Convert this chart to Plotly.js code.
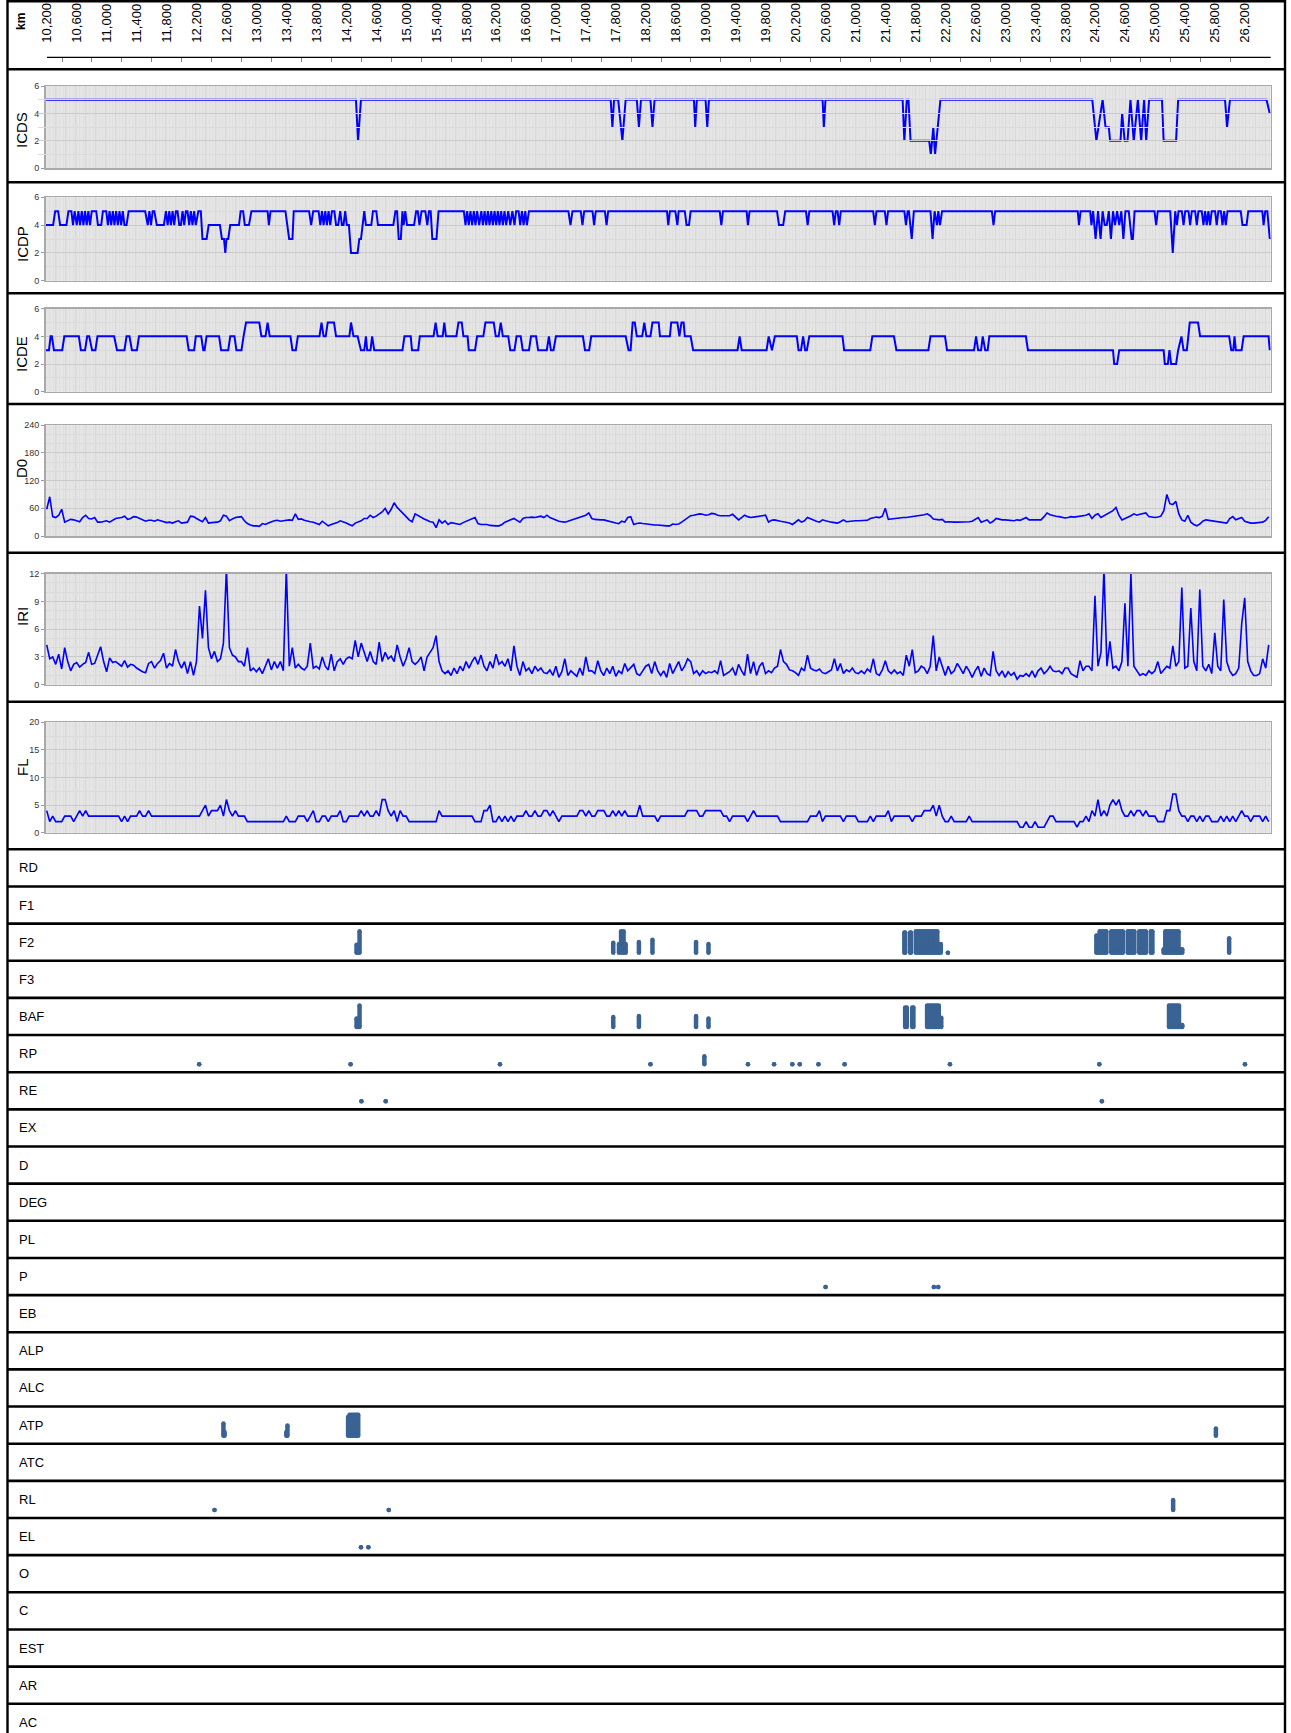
<!DOCTYPE html>
<html><head><meta charset="utf-8">
<script src="https://cdn.plot.ly/plotly-3.0.1.min.js"></script>
<style>html,body{margin:0;padding:0;background:#fff}#chart{width:1291px;height:1733px}</style>
</head><body><div id="chart"></div>
<script>
// ---------------- DATA ----------------
const kmTicks = [10200,10600,11000,11400,11800,12200,12600,13000,13400,13800,14200,14600,15000,15400,15800,16200,16600,17000,17400,17800,18200,18600,19000,19400,19800,20200,20600,21000,21400,21800,22200,22600,23000,23400,23800,24200,24600,25000,25400,25800,26200];
const kmLabels = ['10,200','10,600','11,000','11,400','11,800','12,200','12,600','13,000','13,400','13,800','14,200','14,600','15,000','15,400','15,800','16,200','16,600','17,000','17,400','17,800','18,200','18,600','19,000','19,400','19,800','20,200','20,600','21,000','21,400','21,800','22,200','22,600','23,000','23,400','23,800','24,200','24,600','25,000','25,400','25,800','26,200'];

const stations = [
10240,10280,10320,10360,10400,10440,10480,10520,10560,10600,10640,10680,10720,10760,10800,10840,10880,10920,10960,11000,
11040,11080,11120,11160,11200,11240,11280,11320,11360,11400,11440,11480,11520,11560,11600,11640,11680,11720,11760,11800,11840,11880,11920,11960,12000,
12040,12080,12120,12160,12200,12240,12280,12320,12360,12400,12440,12480,12520,12560,12600,12640,12680,12720,12760,12800,12840,12880,12920,12960,13000,
13040,13080,13120,13160,13200,13240,13280,13320,13360,13400,13440,13480,13520,13560,13600,13640,13680,13720,13760,13800,13840,13880,13920,13960,14000,
14040,14080,14120,14160,14200,14240,14280,14320,14360,14400,14440,14480,14520,14560,14600,14640,14680,14720,14760,14800,14840,14880,14920,14960,15000,
15040,15080,15120,15160,15200,15240,15280,15320,15360,15400,15440,15480,15520,15560,15600,15640,15680,15720,15760,15800,15840,15880,15920,15960,16000,
16040,16080,16120,16160,16200,16240,16280,16320,16360,16400,16440,16480,16520,16560,16600,16640,16680,16720,16760,16800,16840,16880,16920,16960,17000,
17040,17080,17120,17160,17200,17240,17280,17320,17360,17400,17440,17480,17520,17560,17600,17640,17680,17720,17760,17800,17840,17880,17920,17960,18000,
18040,18080,18120,18160,18200,18240,18280,18320,18360,18400,18440,18480,18520,18560,18600,18640,18680,18720,18760,18800,18840,18880,18920,18960,19000,
19040,19080,19120,19160,19200,19240,19280,19320,19360,19400,19440,19480,19520,19560,19600,19640,19680,19720,19760,19800,19840,19880,19920,19960,20000,
20040,20080,20120,20160,20200,20240,20280,20320,20360,20400,20440,20480,20520,20560,20600,20640,20680,20720,20760,20800,20840,20880,20920,20960,21000,
21040,21080,21120,21160,21200,21240,21280,21320,21360,21400,21440,21480,21520,21560,21600,21640,21680,21720,21760,21800,21840,21880,21920,21960,22000,
22040,22080,22120,22160,22200,22240,22280,22320,22360,22400,22440,22480,22520,22560,22600,22640,22680,22720,22760,22800,22840,22880,22920,22960,23000,
23040,23080,23120,23160,23200,23240,23280,23320,23360,23400,23440,23480,23520,23560,23600,23640,23680,23720,23760,23800,23840,23880,23920,23960,24000,
24040,24080,24120,24160,24200,24240,24280,24320,24360,24400,24440,24480,24520,24560,24600,24640,24680,24720,24760,24800,24840,24880,24920,24960,25000,
25040,25080,25120,25160,25200,25240,25280,25320,25360,25400,25440,25480,25520,25560,25600,25640,25680,25720,25760,25800,25840,25880,25920,25960,26000,
26040,26080,26120,26160,26200,26240,26280,26320,26360,26400,26440,26480,26520,26560];

const iriValues = [
4.3,2.8,3.0,2.2,3.3,1.7,4.0,2.5,1.5,2.2,2.4,1.9,2.2,2.4,3.5,2.2,2.3,3.2,4.1,2.5,
1.4,2.9,2.4,2.5,2.2,2.0,2.6,1.9,2.2,2.1,1.8,1.6,1.4,1.3,2.3,2.5,1.8,2.3,2.6,3.4,1.8,2.3,2.0,3.8,2.5,
1.8,2.5,1.2,2.5,1.0,2.5,8.5,5.0,10.2,4.0,2.8,3.6,2.5,2.8,4.5,12.5,4.0,3.2,3.0,2.5,2.5,2.0,4.0,1.5,1.8,
1.4,1.8,1.2,2.0,2.8,1.6,2.5,1.8,2.5,1.5,12.5,2.0,4.0,1.8,2.2,1.8,1.6,2.0,4.5,1.8,2.0,1.7,3.0,2.0,1.6,
3.3,1.5,2.5,2.8,2.2,2.8,3.0,2.8,4.8,3.0,4.5,3.5,2.5,3.6,2.5,2.2,4.6,2.5,3.5,2.8,3.1,2.5,4.3,3.0,2.0,
2.8,4.0,2.5,2.2,2.5,3.0,1.5,3.0,3.5,4.0,5.3,2.5,1.5,1.2,1.5,1.0,1.8,1.2,2.0,1.5,2.5,1.8,2.5,3.0,2.2,
3.2,2.0,1.5,2.5,1.8,3.3,2.2,2.5,2.0,2.8,1.5,4.2,2.0,1.0,2.5,1.5,1.8,1.2,2.0,1.5,1.8,1.3,1.2,1.6,1.0,
2.0,0.8,1.4,2.8,1.0,1.5,1.2,0.9,1.8,1.0,3.0,1.5,1.5,1.2,2.6,1.5,1.0,1.8,1.2,2.0,0.9,1.5,1.2,2.3,1.5,
1.8,2.2,1.2,1.0,1.5,2.0,2.2,1.2,2.5,1.5,1.0,1.5,0.8,2.3,1.2,1.8,2.5,1.5,2.0,2.8,2.5,1.2,1.5,1.0,1.5,
1.2,1.4,1.3,1.5,1.2,2.6,1.0,1.2,1.4,1.8,1.0,2.2,1.5,1.0,3.3,1.2,2.5,1.0,2.0,2.4,1.2,1.5,1.3,1.8,2.0,
3.8,2.5,2.2,1.6,1.5,1.3,1.0,1.8,1.5,3.2,1.8,1.6,1.5,1.7,1.3,1.2,1.4,1.6,2.8,1.5,2.3,1.2,1.6,1.4,1.8,
1.3,1.2,1.5,1.2,1.7,1.4,2.8,1.2,1.0,1.6,2.6,1.5,1.2,1.6,1.2,1.4,1.0,3.2,2.0,3.8,1.3,1.5,2.0,1.8,1.2,
2.0,5.3,1.5,3.0,2.0,1.0,2.0,1.2,1.5,2.3,1.8,1.2,2.0,1.5,0.8,1.5,2.0,0.9,1.8,1.2,1.0,3.6,1.5,1.0,1.5,
0.8,1.4,1.0,1.3,0.6,1.0,0.9,1.2,0.9,1.5,0.8,1.5,1.8,1.2,1.5,2.0,1.5,1.4,1.5,1.2,1.8,1.8,1.2,1.0,0.8,
2.6,1.5,2.0,2.0,1.5,9.6,2.0,3.5,12.5,2.0,4.7,1.8,2.0,1.5,2.5,8.8,2.0,12.0,2.0,1.5,1.0,1.2,1.0,1.5,1.2,
1.5,2.5,1.2,1.6,2.0,1.8,4.2,2.0,2.5,10.5,1.8,2.0,8.3,2.5,1.5,10.3,2.0,1.5,2.2,1.2,5.6,2.0,1.5,9.2,2.5,
1.5,1.0,1.2,1.8,6.6,9.4,2.5,1.5,1.0,1.0,1.2,2.8,1.8,4.3];

const d0Values = [
58,85,42,40,45,58,30,33,36,35,33,31,40,45,38,37,40,30,30,31,
33,30,35,38,39,40,43,36,38,42,41,38,34,32,34,34,32,35,33,31,29,30,28,31,33,
28,29,30,43,42,38,35,31,40,28,29,30,30,33,45,43,33,37,40,41,42,33,27,24,22,
22,21,27,25,28,31,33,34,32,33,34,35,34,48,36,37,34,32,31,30,28,25,32,26,22,
25,27,29,33,31,28,25,22,28,31,33,38,38,45,40,43,47,52,60,48,58,72,62,56,50,
42,35,31,48,44,40,37,34,31,30,18,35,28,33,25,29,28,27,25,29,32,34,37,40,27,
25,25,25,23,22,22,22,25,30,33,35,38,34,30,38,40,40,41,40,42,43,40,45,40,37,
34,32,31,30,32,34,36,38,40,42,45,50,38,36,35,35,35,33,31,30,28,27,32,30,40,
42,25,27,28,27,26,25,25,24,24,23,22,22,22,26,25,26,30,35,40,44,45,47,48,47,
45,46,49,48,45,44,44,43,44,47,42,35,40,45,42,40,41,42,43,44,45,30,34,35,33,
32,31,30,28,25,30,35,30,33,40,37,34,32,30,35,33,31,30,29,28,31,35,31,32,33,
33,33,33,33,34,38,40,41,40,43,60,36,37,38,38,39,40,40,41,42,42,44,45,46,48,
44,37,36,35,36,30,31,30,30,30,30,31,30,31,32,36,40,30,33,35,28,32,38,36,35,
35,34,33,33,35,34,37,40,35,35,35,35,35,42,50,46,44,43,42,40,39,40,42,41,42,
43,44,45,48,38,45,48,40,44,47,52,55,62,45,35,38,40,44,48,45,47,48,50,42,41,
40,41,43,55,90,70,68,75,48,35,32,45,30,25,22,26,32,35,34,33,32,31,30,28,28,
38,42,35,38,40,32,30,28,28,29,30,30,34,42];

const flValues = [
4,2,3,2,2,2,3,3,3,2,3,4,3,4,3,3,3,3,3,3,
3,3,3,3,3,2,3,2,3,3,3,4,3,3,4,3,3,3,3,3,3,3,3,3,3,
3,3,3,3,3,3,3,4,5,3,4,4,4,5,3,6,4,3,4,3,3,3,2,2,2,
2,2,2,2,2,2,2,2,2,2,3,2,2,2,3,3,3,2,3,4,2,2,3,3,2,
3,3,3,4,2,2,3,3,3,3,4,3,4,3,3,4,3,6,6,4,3,4,2,4,3,
3,2,2,2,2,2,2,2,2,2,2,4,3,3,3,3,3,3,3,3,3,3,3,2,2,
2,4,4,5,2,2,3,2,3,2,3,2,3,3,3,4,3,3,4,3,3,4,4,3,4,
3,2,3,3,3,3,3,3,4,4,3,4,3,3,4,4,4,3,3,4,3,4,3,4,3,
3,3,3,5,3,3,3,3,3,2,3,3,3,3,3,3,3,3,3,4,4,4,4,3,3,
4,4,4,4,4,4,3,3,2,3,3,3,3,3,2,3,4,3,3,3,3,3,3,3,3,
2,2,2,2,2,2,2,2,2,2,3,3,3,4,2,3,3,3,3,3,3,2,3,3,3,
3,2,2,2,2,3,2,3,3,3,3,4,2,3,3,3,3,3,3,2,3,3,3,4,4,
4,5,3,5,3,2,2,3,2,2,2,2,2,3,2,2,2,2,2,2,2,2,2,2,2,
2,2,2,2,2,1,1,2,1,1,2,1,1,1,2,3,3,2,2,2,2,2,2,2,1,
2,2,3,2,4,3,6,3,4,3,5,6,5,6,4,3,3,4,3,4,4,3,4,3,3,
3,2,2,2,4,4,7,7,4,3,3,2,3,3,2,3,2,3,3,2,2,2,3,2,3,
2,3,2,3,4,3,3,2,3,3,3,2,3,2];

// condition indices: [km, value] breakpoints
const icdsSteps = [[10225,5],[14370,5],[14398,2],[14437,5],[17772,5],[17795,3],[17817,5],[17872,5],[17928,2],[17972,5],[18121,5],[18149,3],[18177,5],[18303,5],[18330,3],[18358,5],[18884,5],[18901,3],[18923,5],[19039,5],[19062,3],[19084,5],[20602,5],[20619,3],[20641,5],[21671,5],[21694,2],[21727,5],[21749,5],[21777,2],[22026,2],[22048,1],[22081,3],[22104,1],[22176,5],[24204,5],[24259,2],[24342,5],[24381,3],[24425,3],[24442,2],[24581,2],[24603,4],[24636,2],[24675,2],[24714,5],[24758,2],[24813,5],[24857,2],[24896,5],[24924,2],[24963,5],[25135,5],[25157,2],[25323,2],[25351,5],[25977,5],[26004,3],[26043,5],[26531,5],[26575,4]];

const icdpSteps = [[10225,4],[10325,4],[10353,5],[10392,5],[10419,4],[10503,4],[10530,5],[10569,5],[10591,4],[10613,5],[10641,4],[10663,5],[10685,4],[10708,5],[10730,4],[10752,5],[10774,4],[10796,5],[10818,4],[10841,5],[10901,5],[10924,4],[10968,4],[10990,5],[11035,5],[11057,4],[11079,5],[11101,4],[11123,5],[11145,4],[11167,5],[11190,4],[11212,5],[11234,4],[11256,5],[11278,4],[11306,4],[11334,5],[11555,5],[11589,4],[11611,5],[11633,4],[11655,5],[11677,5],[11710,4],[11805,4],[11832,5],[11855,4],[11877,5],[11899,4],[11921,5],[11943,4],[11965,5],[11987,5],[12010,4],[12032,4],[12054,5],[12076,4],[12098,5],[12120,5],[12143,4],[12165,5],[12187,4],[12209,5],[12231,4],[12265,5],[12298,5],[12320,3],[12375,3],[12403,4],[12553,4],[12580,3],[12608,3],[12625,2],[12641,3],[12664,3],[12691,4],[12808,4],[12830,5],[12863,5],[12885,4],[12941,4],[12974,5],[13190,5],[13207,4],[13229,5],[13428,5],[13450,4],[13478,3],[13522,3],[13539,5],[13744,5],[13772,4],[13799,5],[13871,5],[13894,4],[13916,5],[13938,4],[13960,5],[13982,4],[14004,5],[14027,4],[14049,5],[14082,5],[14104,4],[14132,4],[14160,5],[14182,4],[14204,4],[14226,5],[14248,4],[14276,4],[14304,2],[14392,2],[14415,3],[14437,3],[14459,4],[14481,5],[14503,4],[14575,4],[14597,5],[14642,5],[14664,4],[14869,4],[14897,5],[14919,5],[14941,3],[14969,3],[14991,5],[15007,4],[15029,5],[15052,4],[15146,4],[15174,5],[15196,5],[15218,4],[15246,5],[15296,5],[15323,4],[15345,5],[15368,5],[15390,3],[15445,3],[15473,5],[15811,5],[15833,4],[15855,5],[15877,4],[15899,5],[15922,4],[15944,5],[15966,4],[15988,5],[16016,4],[16044,5],[16066,4],[16088,5],[16110,4],[16132,5],[16154,4],[16177,5],[16199,4],[16221,5],[16243,4],[16265,5],[16287,4],[16309,5],[16332,4],[16354,5],[16376,4],[16404,5],[16431,4],[16459,5],[16487,4],[16509,5],[16542,5],[16564,4],[16587,5],[16609,4],[16631,5],[16653,4],[16681,5],[17207,5],[17235,4],[17262,5],[17373,5],[17395,4],[17418,5],[17529,5],[17551,4],[17573,5],[17695,5],[17717,4],[17739,5],[18524,5],[18541,4],[18563,5],[18635,5],[18663,4],[18679,5],[18762,5],[18785,4],[18818,4],[18840,5],[19228,5],[19250,4],[19272,5],[19588,5],[19605,4],[19627,5],[19993,5],[20020,4],[20076,4],[20103,5],[20380,5],[20403,4],[20425,5],[20735,5],[20757,4],[20779,5],[20802,5],[20824,4],[20846,5],[21278,5],[21300,4],[21322,5],[21433,5],[21455,4],[21477,5],[21694,5],[21716,4],[21738,5],[21755,5],[21793,3],[21821,5],[22043,5],[22071,3],[22098,5],[22131,4],[22148,5],[22170,4],[22198,5],[22863,5],[22885,4],[22907,5],[24010,5],[24026,4],[24048,5],[24176,5],[24193,4],[24215,5],[24248,3],[24281,5],[24315,3],[24342,5],[24370,4],[24397,4],[24425,5],[24453,3],[24481,5],[24508,4],[24536,5],[24564,4],[24592,5],[24619,3],[24647,5],[24691,5],[24730,3],[24746,3],[24769,5],[25035,5],[25057,4],[25079,5],[25245,5],[25279,2],[25312,5],[25334,4],[25356,5],[25400,5],[25423,4],[25445,5],[25489,5],[25511,4],[25533,5],[25578,5],[25600,4],[25622,5],[25666,5],[25689,4],[25711,5],[25733,4],[25755,5],[25777,4],[25799,5],[25844,5],[25866,4],[25888,5],[25921,5],[25943,4],[25965,5],[25987,4],[26010,5],[26187,5],[26210,4],[26265,4],[26287,5],[26475,5],[26492,4],[26514,5],[26542,5],[26575,3]];

const icdeSteps = [[10225,3],[10270,3],[10292,4],[10309,4],[10336,3],[10447,3],[10475,4],[10669,4],[10696,3],[10752,3],[10780,4],[10807,4],[10846,3],[10890,3],[10918,4],[11140,4],[11179,3],[11278,3],[11306,4],[11345,4],[11378,3],[11445,3],[11472,4],[12109,4],[12137,3],[12209,3],[12231,4],[12303,4],[12331,3],[12348,3],[12375,4],[12542,4],[12569,3],[12664,3],[12691,4],[12747,4],[12774,3],[12841,3],[12869,4],[12902,5],[13079,5],[13107,4],[13162,4],[13190,5],[13218,4],[13495,4],[13522,3],[13567,3],[13594,4],[13883,4],[13910,5],[13938,4],[13966,4],[13993,5],[14077,5],[14104,4],[14282,4],[14304,5],[14337,4],[14392,4],[14437,3],[14481,3],[14503,4],[14520,3],[14564,3],[14586,4],[14614,3],[14991,3],[15018,4],[15102,4],[15118,3],[15201,3],[15223,4],[15406,4],[15434,5],[15461,4],[15528,4],[15550,5],[15572,4],[15711,4],[15739,5],[15783,5],[15805,4],[15861,4],[15877,3],[15960,3],[15988,4],[16071,4],[16099,5],[16210,5],[16237,4],[16276,4],[16304,5],[16332,4],[16404,4],[16431,3],[16487,3],[16515,4],[16570,4],[16598,3],[16681,3],[16708,4],[16775,4],[16803,3],[16919,3],[16947,4],[16974,3],[17008,3],[17041,4],[17401,4],[17429,3],[17484,3],[17512,4],[17972,4],[18011,3],[18038,3],[18066,5],[18094,5],[18121,4],[18193,4],[18221,5],[18249,4],[18303,4],[18330,5],[18413,5],[18430,4],[18563,4],[18580,5],[18663,5],[18690,4],[18718,5],[18746,5],[18762,4],[18840,4],[18873,3],[19466,3],[19494,4],[19522,3],[19854,3],[19882,4],[19926,3],[19965,4],[20258,4],[20281,3],[20314,3],[20342,4],[20369,3],[20392,3],[20425,4],[20868,4],[20890,3],[21239,3],[21267,4],[21555,4],[21588,3],[22015,3],[22043,4],[22237,4],[22264,3],[22625,3],[22652,4],[22680,3],[22719,3],[22741,4],[22774,3],[22807,3],[22829,4],[23317,4],[23345,3],[24481,3],[24497,2],[24536,2],[24564,3],[25157,3],[25173,2],[25213,2],[25235,3],[25257,2],[25323,2],[25351,3],[25395,4],[25423,3],[25467,3],[25489,4],[25506,5],[25617,5],[25644,4],[26032,4],[26060,3],[26087,3],[26104,4],[26121,3],[26198,3],[26226,4],[26558,4],[26575,3]];

// defect rows: [km, extent level 0..3]
const rowNames = ['RD','F1','F2','F3','BAF','RP','RE','EX','D','DEG','PL','P','EB','ALP','ALC','ATP','ATC','RL','EL','O','C','EST','AR','AC'];
const f2Events = [[14378,1.1],[14400,1.1],[14418,3],[17806,1.4],[17883,1.2],[17911,3],[17944,3],[17972,1.2],[18149,1.5],[18330,1.8],[18912,1.5],[19078,1.2],
[21694,2.8],[21705,2.8],[21771,2.8],[21782,2.8],[21848,3],[21870,3],[21892,3],[21914,3],[21936,3],[21958,3],[21980,3],[22002,3],[22024,3],[22046,3],[22068,3],[22090,3],[22112,3],[22134,3],[22154,1.2],[22181,1.2],[22275,0],
[24259,2.4],[24281,2.4],[24303,3],[24325,3],[24348,3],[24370,3],[24392,3],[24458,3],[24480,3],[24502,3],[24524,3],[24546,3],[24568,3],[24590,3],[24612,3],[24678,3],[24700,3],[24722,3],[24744,3],[24766,3],[24832,3],[24854,3],[24876,3],[24898,3],[24920,3],[24986,3],[25007,3],
[25157,0.5],[25179,3],[25201,3],[25223,3],[25245,3],[25268,3],[25290,3],[25312,3],[25334,3],[25356,3],[25384,0.5],[25406,0.5],[26032,2]];
const bafEvents = [[14378,1.2],[14400,1.2],[14418,3],[17806,1.4],[18149,1.55],[18912,1.55],[19078,1.2],[21705,2.7],[21727,2.7],[21800,2.7],[21815,2.7],[21998,3],[22021,3],[22043,3],[22065,3],[22087,3],[22109,3],[22131,3],[22154,3],[22187,1.3],[25229,3],[25251,3],[25273,3],[25295,3],[25317,3],[25340,3],[25362,3],[25389,0.3],[25406,0.3]];
const rpEvents = [[12276,0],[14298,0],[16293,0],[18303,0],[19023,1.1],[19605,0],[19954,0],[20198,0],[20297,0],[20547,0],[20896,0],[22303,0],[24298,0],[26243,0]];
const reEvents = [[14443,0],[14767,0],[24332,0]];
const pEvents = [[20642,0],[22088,0],[22147,0]];
const atpEvents = [[12600,1.7],[12615,0.5],[13440,0.5],[13455,1.4],[14265,2.6],[14285,2.9],[14305,2.9],[14325,2.9],[14345,2.9],[14365,2.9],[14385,2.9],[14400,2.9],[25855,1.0]];
const rlEvents = [[12481,0],[14808,0],[25284,1.4]];
const elEvents = [[14437,0],[14536,0]];

// ---------------- LAYOUT HELPERS ----------------
const W = 1291, H = 1733;
const FONT = 'Liberation Sans, Arial, Helvetica, sans-serif';
const X0 = 45.6, X1 = 1270.7;
const XR = [10225, 26587];
const M_PER_PX = (XR[1] - XR[0]) / (X1 - X0);
const BLUE = '#0000ff';
const EV = '#3a6394';
const py = p => 1 - p / H;
const pxX = p => p / W;

const panels = [
  {name:'ICDS', top:86,    bot:168.3, range:[0,6],   ticks:[0,2,4,6],          minor:1,  title:130},
  {name:'ICDP', top:197.3, bot:280.7, range:[0,6],   ticks:[0,2,4,6],          minor:1,  title:244},
  {name:'ICDE', top:308.7, bot:391.7, range:[0,6],   ticks:[0,2,4,6],          minor:1,  title:354},
  {name:'D0',   top:425.3, bot:536,   range:[0,240], ticks:[0,60,120,180,240], minor:20, title:469},
  {name:'IRI',  top:573.7, bot:684.7, range:[0,12],  ticks:[0,3,6,9,12],       minor:1,  title:617},
  {name:'FL',   top:722.3, bot:832.7, range:[0,20],  ticks:[0,5,10,15,20],     minor:2.5,title:767}
];
const ROW0 = 849.3, ROWH = 37.15, LEVEL_PX = 7.2;

const layout = {
  width: W, height: H, margin:{l:0,r:0,t:0,b:0}, paper_bgcolor:'#ffffff', plot_bgcolor:'rgba(0,0,0,0)',
  showlegend:false, font:{family:FONT, color:'#000'},
  shapes:[], annotations:[]
};

layout.xaxis = {domain:[pxX(X0), pxX(X1)], range:XR, anchor:'y6', showticklabels:false, ticks:'',
  showline:true, linecolor:'#a9a9a9', linewidth:1.5, mirror:'all', zeroline:false,
  showgrid:true, gridcolor:'#d9d9d9', gridwidth:1, tick0:10225, dtick:133.5,
  minor:{dtick:44.5, showgrid:true, gridcolor:'#dfdfdf', gridwidth:1}, fixedrange:true};
// header km axis (labels only; its line is drawn as a shape)
const HX0 = 38, HSHIFT = 3.3;
layout.xaxis2 = {domain:[pxX(HX0), pxX(X1)],
  range:[XR[0] - (X0 - HX0 + HSHIFT) * M_PER_PX, XR[1] - HSHIFT * M_PER_PX], anchor:'free', position:py(57.3), side:'top',
  tickmode:'array', tickvals:kmTicks, ticktext:kmLabels, tickangle:-90, tickfont:{size:13, color:'#000', family:FONT},
  ticks:'outside', ticklen:12, tickcolor:'rgba(0,0,0,0)', showline:false,
  showgrid:false, zeroline:false,
  minor:{tickmode:'array', tickvals:kmTicks.slice(1).map(v => v - 200), ticks:'inside', ticklen:4, tickcolor:'#808080', tickwidth:1, showgrid:false},
  fixedrange:true};
layout.xaxis3 = {domain:[pxX(X0), pxX(X1)], range:XR, anchor:'y7', visible:false, fixedrange:true};
layout.yaxis7 = {domain:[0, py(ROW0)], range:[H, ROW0], anchor:'x3', visible:false, fixedrange:true};

const traces = [];
panels.forEach((p, i) => {
  const key = i === 0 ? 'yaxis' : 'yaxis' + (i + 1);
  layout[key] = {domain:[py(p.bot), py(p.top)], range:p.range, anchor:'x', tickmode:'array', tickvals:p.ticks,
    ticks:'outside', ticklen:3, tickcolor:'#9a9a9a', tickfont:{size:9, color:'#333', family:FONT},
    showline:true, mirror:true, linecolor:'#a9a9a9', linewidth:1.5, zeroline:false,
    showgrid:true, gridcolor:'#cacaca', gridwidth:1,
    minor:{dtick:p.minor, showgrid:true, gridcolor:'#dadada', gridwidth:1}, fixedrange:true};
  layout.shapes.push({type:'rect', xref:'paper', yref:'paper', x0:pxX(X0), x1:pxX(X1), y0:py(p.bot), y1:py(p.top),
    fillcolor:'#e5e5e5', line:{width:0}, layer:'below'});
  layout.annotations.push({xref:'paper', yref:'paper', x:pxX(22), y:py(p.title), text:p.name, textangle:-90,
    showarrow:false, xanchor:'center', yanchor:'middle', font:{size:15, color:'#000', family:FONT}});
});

const yId = i => i === 0 ? 'y' : 'y' + (i + 1);
function stepTrace(steps, i) {
  return {type:'scatter', mode:'lines', x:steps.map(s => s[0]), y:steps.map(s => s[1]), xaxis:'x', yaxis:yId(i),
    line:{color:BLUE, width:2}, hoverinfo:'skip'};
}
traces.push(stepTrace(icdsSteps, 0));
traces.push(stepTrace(icdpSteps, 1));
traces.push(stepTrace(icdeSteps, 2));
[[d0Values,3],[iriValues,4],[flValues,5]].forEach(([v, i]) => {
  traces.push({type:'scatter', mode:'lines', x:stations, y:v, xaxis:'x', yaxis:yId(i),
    line:{color:BLUE, width:1.6}, hoverinfo:'skip'});
});
traces.push({type:'scatter', mode:'markers', x:[null], y:[null], xaxis:'x2', yaxis:'y', hoverinfo:'skip'});

const rowEvents = {F2:f2Events, BAF:bafEvents, RP:rpEvents, RE:reEvents, P:pEvents, ATP:atpEvents, RL:rlEvents, EL:elEvents};
rowNames.forEach((name, r) => {
  const top = ROW0 + r * ROWH;
  layout.annotations.push({xref:'paper', yref:'paper', x:pxX(17), y:py(top + ROWH / 2), text:name, showarrow:false,
    xanchor:'left', yanchor:'middle', font:{size:13, color:'#000', family:FONT}});
  const ev = rowEvents[name];
  if (!ev) return;
  const base = top + ROWH - 8;
  const xs = [], ys = [];
  ev.forEach(([km, lvl]) => { xs.push(km, km, null); ys.push(base, base - lvl * LEVEL_PX, null); });
  traces.push({type:'scatter', mode:'lines+markers', x:xs, y:ys, xaxis:'x3', yaxis:'y7', connectgaps:false,
    line:{color:EV, width:4.5}, marker:{color:EV, size:4.5, line:{width:0}}, hoverinfo:'skip', cliponaxis:false});
});

// header axis line, separators and frame
layout.shapes.push({type:'line', xref:'paper', yref:'paper', x0:pxX(47), x1:pxX(X1), y0:py(57.3), y1:py(57.3), line:{color:'#000', width:1.2}});
const seps = [69.3, 182.3, 293.3, 404, 552.7, 701.7];
rowNames.forEach((n, r) => seps.push(ROW0 + r * ROWH));
seps.forEach(y => layout.shapes.push({type:'line', xref:'paper', yref:'paper', x0:pxX(7), x1:pxX(1285.5), y0:py(y), y1:py(y),
  line:{color:'#000', width:2.6}}));
layout.shapes.push({type:'line', xref:'paper', yref:'paper', x0:pxX(7), x1:pxX(1285.5), y0:py(1.2), y1:py(1.2), line:{color:'#000', width:2.4}});
layout.shapes.push({type:'line', xref:'paper', yref:'paper', x0:pxX(7.5), x1:pxX(7.5), y0:0, y1:1, line:{color:'#000', width:2.4}});
layout.shapes.push({type:'line', xref:'paper', yref:'paper', x0:pxX(1285), x1:pxX(1285), y0:0, y1:1, line:{color:'#000', width:2.4}});

layout.annotations.push({xref:'paper', yref:'paper', x:pxX(21), y:py(22), text:'<b>km</b>', textangle:-90, showarrow:false,
  xanchor:'center', yanchor:'middle', font:{size:12, color:'#000', family:FONT}});

Plotly.newPlot('chart', traces, layout, {staticPlot:true, displayModeBar:false});
</script>
</body></html>
